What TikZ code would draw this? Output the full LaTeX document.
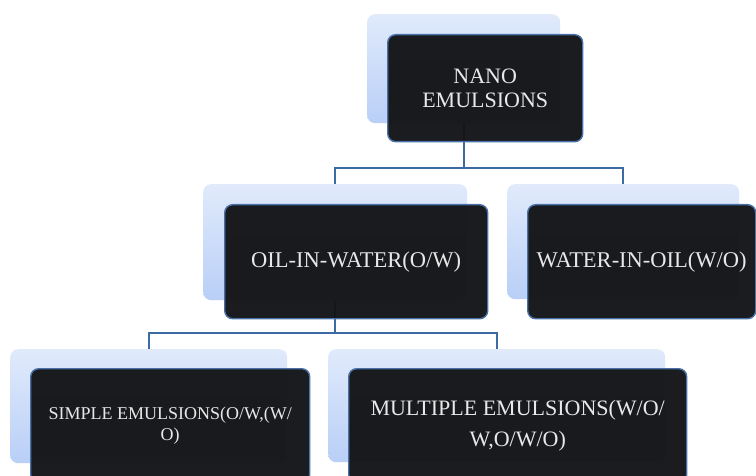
\documentclass[tikz,border=0pt]{standalone}
\usepackage{fontspec}
\setmainfont{Liberation Serif}
\usetikzlibrary{calc}
\definecolor{backtop}{HTML}{E0EAFB}
\definecolor{backbot}{HTML}{B9CFF7}
\definecolor{frontfill}{HTML}{121316}
\definecolor{frontline}{HTML}{4A72A8}
\definecolor{connline}{HTML}{3D6AA3}
\definecolor{labeltext}{HTML}{E8E8E8}
\tikzset{
  backbox/.style={anchor=north west, rounded corners=8pt, top color=backtop,
    bottom color=backbot, draw=none, inner sep=0pt},
  frontbox/.style={anchor=north west, rounded corners=8pt, fill=frontfill,
    fill opacity=0.96, text opacity=1, draw=frontline, line width=1.4pt,
    text=labeltext, align=center, inner sep=0pt},
  conn/.style={draw=connline, line width=1.8pt},
  bigtext/.style={font=\fontsize{22.5}{25}\selectfont},
  smalltext/.style={font=\fontsize{18}{21}\selectfont},
}
\begin{document}
\begin{tikzpicture}[x=1pt, y=-1pt]
\clip (0,0) rectangle (756,476);
\fill[white] (0,0) rectangle (756,476);

% light back panels
\node[backbox, minimum width=193pt, minimum height=109pt] (nanoB) at (367,14) {};
\node[backbox, minimum width=264pt, minimum height=116pt] (owB) at (203,184) {};
\node[backbox, minimum width=232pt, minimum height=115pt] (woB) at (507,184) {};
\node[backbox, minimum width=277pt, minimum height=114pt] (simB) at (10,349) {};
\node[backbox, minimum width=337pt, minimum height=113pt] (mulB) at (328,349) {};

% hierarchy connectors
\coordinate (splitA) at (463,168);
\coordinate (splitB) at (335,333);
\draw[conn] (nanoB.south) -- (nanoB.south |- splitA) -| (owB.north);
\draw[conn] (nanoB.south |- splitA) -| (woB.north);
\draw[conn] (owB.south) -- (owB.south |- splitB) -| (simB.north);
\draw[conn] (owB.south |- splitB) -| (mulB.north);

% dark front panels with labels
\node[frontbox, font=\fontsize{22}{24}\selectfont, minimum width=195pt, minimum height=107pt] (nano) at (387,34) {NANO\\EMULSIONS};
\node[frontbox, bigtext, minimum width=263pt, minimum height=114pt] (ow) at (224,204) {OIL-IN-WATER(O/W)};
\node[frontbox, bigtext, minimum width=228pt, minimum height=114pt] (wo) at (527,204) {WATER-IN-OIL(W/O)};
\node[frontbox, smalltext, minimum width=279pt, minimum height=114pt] (sim) at (30,368) {SIMPLE EMULSIONS(O/W,(W/\\O)};
\node[frontbox, font=\fontsize{22}{31}\selectfont, minimum width=338pt, minimum height=114pt] (mul) at (348,368) {MULTIPLE EMULSIONS(W/O/\\W,O/W/O)};
\end{tikzpicture}
\end{document}
